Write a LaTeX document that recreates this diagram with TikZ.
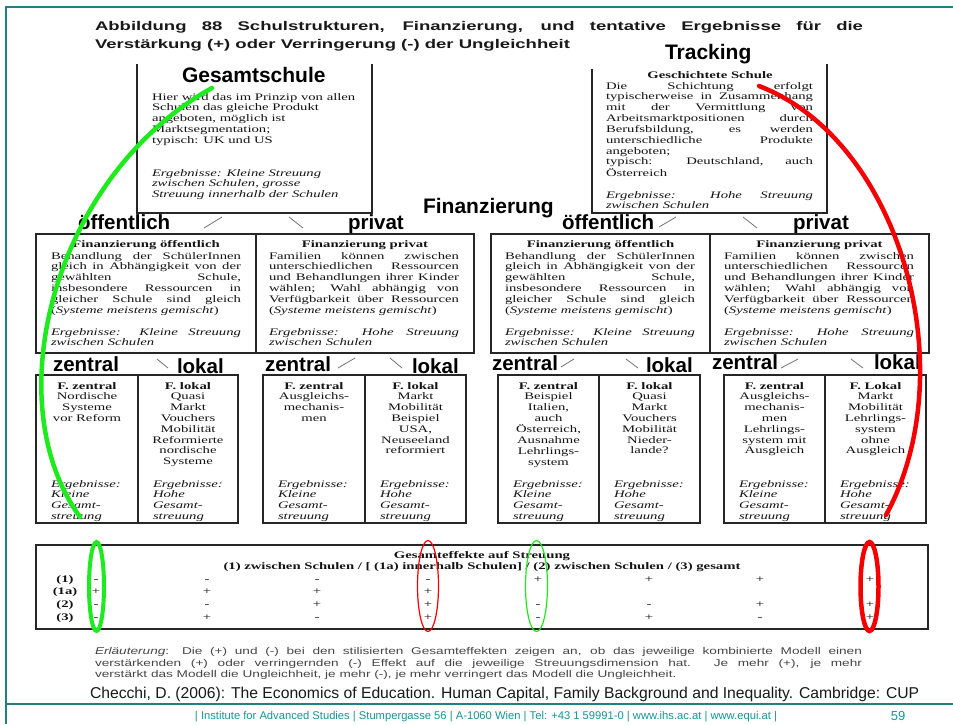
\documentclass[tikz,border=0pt]{standalone}
\usepackage{fontspec}
\setmainfont{Liberation Serif}
% wide faces of the scanned page
\newfontfamily\scanserif[FakeStretch=1.47]{Liberation Serif}
\newfontfamily\titlesans[FakeStretch=1.47]{Liberation Sans}
\newfontfamily\notesans[FakeStretch=1.39]{Liberation Sans}
\newfontfamily\labelsans{Liberation Sans}

\definecolor{frameteal}{RGB}{35,128,128}
\definecolor{footteal}{RGB}{20,150,150}
\definecolor{ink}{RGB}{20,20,20}
\definecolor{notegray}{RGB}{70,70,70}
\definecolor{markgreen}{RGB}{30,235,30}
\definecolor{markred}{RGB}{245,0,0}

\newlength\jw
\newcommand\J[1]{\makebox[\jw][s]{#1}}

\tikzset{
  every node/.style={inner sep=0pt, outer sep=0pt},
  frame/.style={draw=frameteal, line width=1.6pt},
  panel/.style={draw=black!85, line width=1.2pt},
  tick/.style={draw=black!55, line width=0.8pt},
  toplabel/.style={anchor=base west, text=black, font=\labelsans\bfseries\fontsize{21}{25}\selectfont},
  biglabel/.style={anchor=base west, text=black, font=\labelsans\bfseries\fontsize{20.5}{24}\selectfont},
  titletxt/.style={anchor=base west, text=black!90, font=\titlesans\bfseries\fontsize{12.6}{15}\selectfont},
  body/.style={anchor=base west, text=ink, font=\scanserif\fontsize{10}{10.85}\selectfont},
  bodyit/.style={anchor=base west, text=ink, font=\scanserif\itshape\fontsize{10}{10.75}\selectfont},
  bodyc/.style={anchor=base, text=ink, font=\scanserif\fontsize{10}{10.8}\selectfont},
  bodyhead/.style={anchor=base, text=ink, font=\scanserif\bfseries\fontsize{10}{10.8}\selectfont},
  sign/.style={anchor=base, text=ink, font=\scanserif\fontsize{10}{10.8}\selectfont},
  notetxt/.style={anchor=base west, text=notegray, font=\notesans\fontsize{9.8}{11.5}\selectfont},
  marker/.style={line cap=round},
}

\begin{document}
\begin{tikzpicture}[x=1pt,y=-1pt]
\useasboundingbox[fill=white] (0,0) rectangle (953,724);

% page frame
\draw[frame] (6,724) -- (6,7) -- (953,7);
\draw[frame] (6,704) -- (953,704);

% heading
\node[titletxt] (title1) at (95,30) {\makebox[768pt][s]{Abbildung 88 Schulstrukturen, Finanzierung, und tentative Ergebnisse für die}};
\node[titletxt] (title2) at (95,48) {Verstärkung (+) oder Verringerung (-) der Ungleichheit};

% ---------- top level: comprehensive vs. tracked schools
\draw[panel] (137,64) -- (137,213) -- (372,213) -- (372,64);
\draw[panel] (592,69) -- (592,213) -- (827,213) -- (827,64);

\node[toplabel] (gesamt) at (182,82) {Gesamtschule};
\node[toplabel] (tracking) at (665,59) {Tracking};

\node[body] (gs-text) at (152,100) {\begin{tabular}[t]{@{}l@{}}
Hier wird das im Prinzip von allen\\
Schulen das gleiche Produkt\\
angeboten, möglich ist\\
Marktsegmentation;\\
typisch: UK und US
\end{tabular}};
\node[bodyit] (gs-result) at (152,176) {\begin{tabular}[t]{@{}l@{}}
Ergebnisse: Kleine Streuung\\
zwischen Schulen, grosse\\
Streuung innerhalb der Schulen
\end{tabular}};

\node[bodyhead] (tr-head) at (710,78) {Geschichtete Schule};
\node[body] (tr-text) at (606,89) {\setlength\jw{207pt}\begin{tabular}[t]{@{}l@{}}
\J{Die Schichtung erfolgt}\\
\J{typischerweise in Zusammenhang}\\
\J{mit der Vermittlung von}\\
\J{Arbeitsmarktpositionen durch}\\
\J{Berufsbildung, es werden}\\
\J{unterschiedliche Produkte}\\
angeboten;\\
\J{typisch: Deutschland, auch}\\
Österreich
\end{tabular}};
\node[bodyit] (tr-result) at (606,198) {\setlength\jw{207pt}\begin{tabular}[t]{@{}l@{}}
\J{Ergebnisse: Hohe Streuung}\\
zwischen Schulen
\end{tabular}};

\node[toplabel] (fin) at (423,213) {Finanzierung};

% ---------- second level: public vs. private funding
\node[biglabel] (oeff-l) at (78,229) {öffentlich};
\node[biglabel] (priv-l) at (348,229) {privat};
\node[biglabel] (oeff-r) at (562,229) {öffentlich};
\node[biglabel] (priv-r) at (793,229) {privat};
\draw[tick] (204,228) -- (222,217);
\draw[tick] (289,217) -- (303,228);
\draw[tick] (659,227) -- (676,217);
\draw[tick] (743,217) -- (757,228);

\draw[panel] (36,234) rectangle (474,353);
\draw[panel] (256,234) -- (256,353);
\draw[panel] (491,234) rectangle (929,353);
\draw[panel] (710,234) -- (710,353);

\foreach \bx/\cx/\side in {51/146/a, 505/600.5/b} {
  \node[bodyhead] (fo-head-\side) at (\cx,247) {Finanzierung öffentlich};
  \node[body] (fo-text-\side) at (\bx,259) {\setlength\jw{190pt}\begin{tabular}[t]{@{}l@{}}
  \J{Behandlung der SchülerInnen}\\
  \J{gleich in Abhängigkeit von der}\\
  \J{gewählten Schule,}\\
  \J{insbesondere Ressourcen in}\\
  \J{gleicher Schule sind gleich}\\
  (\textit{Systeme meistens gemischt})
  \end{tabular}};
  \node[bodyit] (fo-res-\side) at (\bx,335) {\setlength\jw{190pt}\begin{tabular}[t]{@{}l@{}}
  \J{Ergebnisse: Kleine Streuung}\\
  zwischen Schulen
  \end{tabular}};
}
\foreach \bx/\cx/\side in {269/365/a, 724/819.5/b} {
  \node[bodyhead] (fp-head-\side) at (\cx,247) {Finanzierung privat};
  \node[body] (fp-text-\side) at (\bx,259) {\setlength\jw{190pt}\begin{tabular}[t]{@{}l@{}}
  \J{Familien können zwischen}\\
  \J{unterschiedlichen Ressourcen}\\
  \J{und Behandlungen ihrer Kinder}\\
  \J{wählen; Wahl abhängig von}\\
  \J{Verfügbarkeit über Ressourcen}\\
  (\textit{Systeme meistens gemischt})
  \end{tabular}};
  \node[bodyit] (fp-res-\side) at (\bx,335) {\setlength\jw{190pt}\begin{tabular}[t]{@{}l@{}}
  \J{Ergebnisse: Hohe Streuung}\\
  zwischen Schulen
  \end{tabular}};
}

% ---------- third level: central vs. local funding
\node[biglabel] (z1) at (53,371) {zentral};
\node[biglabel] (l1) at (177,373) {lokal};
\node[biglabel] (z2) at (265,371) {zentral};
\node[biglabel] (l2) at (412,373) {lokal};
\node[biglabel] (z3) at (492,370) {zentral};
\node[biglabel] (l3) at (646,372) {lokal};
\node[biglabel] (z4) at (712,369) {zentral};
\node[biglabel] (l4) at (874,369) {lokal};
\draw[tick] (157,359) -- (168,368);
\draw[tick] (338,368) -- (355,358);
\draw[tick] (390,358) -- (402,368);
\draw[tick] (561,367) -- (574,359);
\draw[tick] (626,359) -- (638,368);
\draw[tick] (781,368) -- (798,359);
\draw[tick] (851,359) -- (863,368);

\node[bodyc] (c1) at (87,389) {\begin{tabular}[t]{@{}c@{}}\textbf{F. zentral}\\ Nordische\\ Systeme\\ vor Reform\end{tabular}};
\node[bodyc] (c2) at (188,389) {\begin{tabular}[t]{@{}c@{}}\textbf{F. lokal}\\ Quasi\\ Markt\\ Vouchers\\ Mobilität\\ Reformierte\\ nordische\\ Systeme\end{tabular}};
\node[bodyc] (c3) at (314,389) {\begin{tabular}[t]{@{}c@{}}\textbf{F. zentral}\\ Ausgleichs-\\ mechanis-\\ men\end{tabular}};
\node[bodyc] (c4) at (415.5,389) {\begin{tabular}[t]{@{}c@{}}\textbf{F. lokal}\\ Markt\\ Mobilität\\ Beispiel\\ USA,\\ Neuseeland\\ reformiert\end{tabular}};
\node[bodyc] (c5) at (548.5,389) {\begin{tabular}[t]{@{}c@{}}\textbf{F. zentral}\\ Beispiel\\ Italien,\\ auch\\ Österreich,\\ Ausnahme\\ Lehrlings-\\ system\end{tabular}};
\node[bodyc] (c6) at (649.5,389) {\begin{tabular}[t]{@{}c@{}}\textbf{F. lokal}\\ Quasi\\ Markt\\ Vouchers\\ Mobilität\\ Nieder-\\ lande?\end{tabular}};
\node[bodyc] (c7) at (774.5,389) {\begin{tabular}[t]{@{}c@{}}\textbf{F. zentral}\\ Ausgleichs-\\ mechanis-\\ men\\ Lehrlings-\\ system mit\\ Ausgleich\end{tabular}};
\node[bodyc] (c8) at (875.5,389) {\begin{tabular}[t]{@{}c@{}}\textbf{F. Lokal}\\ Markt\\ Mobilität\\ Lehrlings-\\ system\\ ohne\\ Ausgleich\end{tabular}};

\foreach \bx/\word [count=\i] in {51/Kleine, 153/Hohe, 278/Kleine, 380/Hohe, 513/Kleine, 614/Hohe, 739/Kleine, 840/Hohe} {
  \node[bodyit] (r\i) at (\bx,487) {\begin{tabular}[t]{@{}l@{}}Ergebnisse:\\ \word\\ Gesamt-\\ streuung\end{tabular}};
}

\draw[panel] (36,375) rectangle (238,523);
\draw[panel] (138,375) -- (138,523);
\draw[panel] (263,375) rectangle (466,523);
\draw[panel] (365,375) -- (365,523);
\draw[panel] (498,375) rectangle (700,523);
\draw[panel] (599,375) -- (599,523);
\draw[panel] (724,375) rectangle (926,523);
\draw[panel] (825,375) -- (825,523);

% ---------- summary table
\draw[panel] (36,545) rectangle (928,629);
\node[bodyhead] (tab-head) at (482,558) {Gesamteffekte auf Streuung};
\node[bodyhead] (tab-sub) at (482,569.5) {(1) zwischen Schulen / [ (1a) innerhalb Schulen] / (2) zwischen Schulen / (3) gesamt};
\foreach \lab/\yy [count=\i] in {(1)/582, (1a)/594.5, (2)/607, (3)/620} {
  \node[bodyhead] (rowlab\i) at (65,\yy) {\lab};
}
\foreach \xx/\yy/\s [count=\i] in {
  96/582/-, 207/582/-, 317/582/-, 428/582/-, 538/582/+, 649/582/+, 760/582/+, 870/582/+,
  96/594.5/+, 207/594.5/+, 317/594.5/+, 428/594.5/+,
  96/607/-, 207/607/-, 317/607/+, 428/607/+, 538/607/-, 649/607/-, 760/607/+, 870/607/+,
  96/620/-, 207/620/+, 317/620/-, 428/620/+, 538/620/-, 649/620/+, 760/620/-, 870/620/+} {
  \node[sign] (sg\i) at (\xx,\yy) {\s};
}

% ---------- explanation and source
\node[notetxt] (note1) at (95,654) {\makebox[767pt][s]{\textit{Erläuterung}: Die (+) und (-) bei den stilisierten Gesamteffekten zeigen an, ob das jeweilige kombinierte Modell einen}};
\node[notetxt] (note2) at (95,666) {\makebox[767pt][s]{verstärkenden (+) oder verringernden (-) Effekt auf die jeweilige Streuungsdimension hat. Je mehr (+), je mehr}};
\node[notetxt] (note3) at (95,677.5) {verstärkt das Modell die Ungleichheit, je mehr (-), je mehr verringert das Modell die Ungleichheit.};

\node[anchor=base west, text=black!90, font=\labelsans\fontsize{15.7}{18}\selectfont] (source) at (90,698) {Checchi, D. (2006): The Economics of Education. Human Capital, Family Background and Inequality. Cambridge: CUP};

\node[anchor=base, text=footteal, font=\labelsans\fontsize{11.2}{13}\selectfont] (footer) at (486,719.5) {| Institute for Advanced Studies | Stumpergasse 56 | A-1060 Wien | Tel: +43 1 59991-0 | www.ihs.ac.at | www.equi.at |};
\node[anchor=base, text=footteal, font=\labelsans\fontsize{13}{15}\selectfont] (page) at (898,720) {59};

% ---------- hand-drawn highlights
\coordinate (gs-a) at (212,88);
\coordinate (gs-b) at (80,517);
\coordinate (tr-a) at (759,86);
\coordinate (tr-b) at (886,515);
\draw[marker, markgreen, line width=4.5pt] (gs-a) .. controls (55,175) and (-5,400) .. (gs-b);
\draw[marker, markred, line width=4.5pt] (tr-a) .. controls (900,140) and (965,370) .. (tr-b);

\draw[markgreen, line width=4pt] (96.5,586.5) ellipse [x radius=7.5pt, y radius=44.5pt];
\draw[markred, line width=1.2pt] (428,586) ellipse [x radius=10.5pt, y radius=45.5pt];
\draw[markgreen, line width=1.2pt] (536.5,586) ellipse [x radius=11pt, y radius=45.5pt];
\draw[markred, line width=4.5pt] (869.5,586.5) ellipse [x radius=9pt, y radius=44.5pt];
\end{tikzpicture}
\end{document}
